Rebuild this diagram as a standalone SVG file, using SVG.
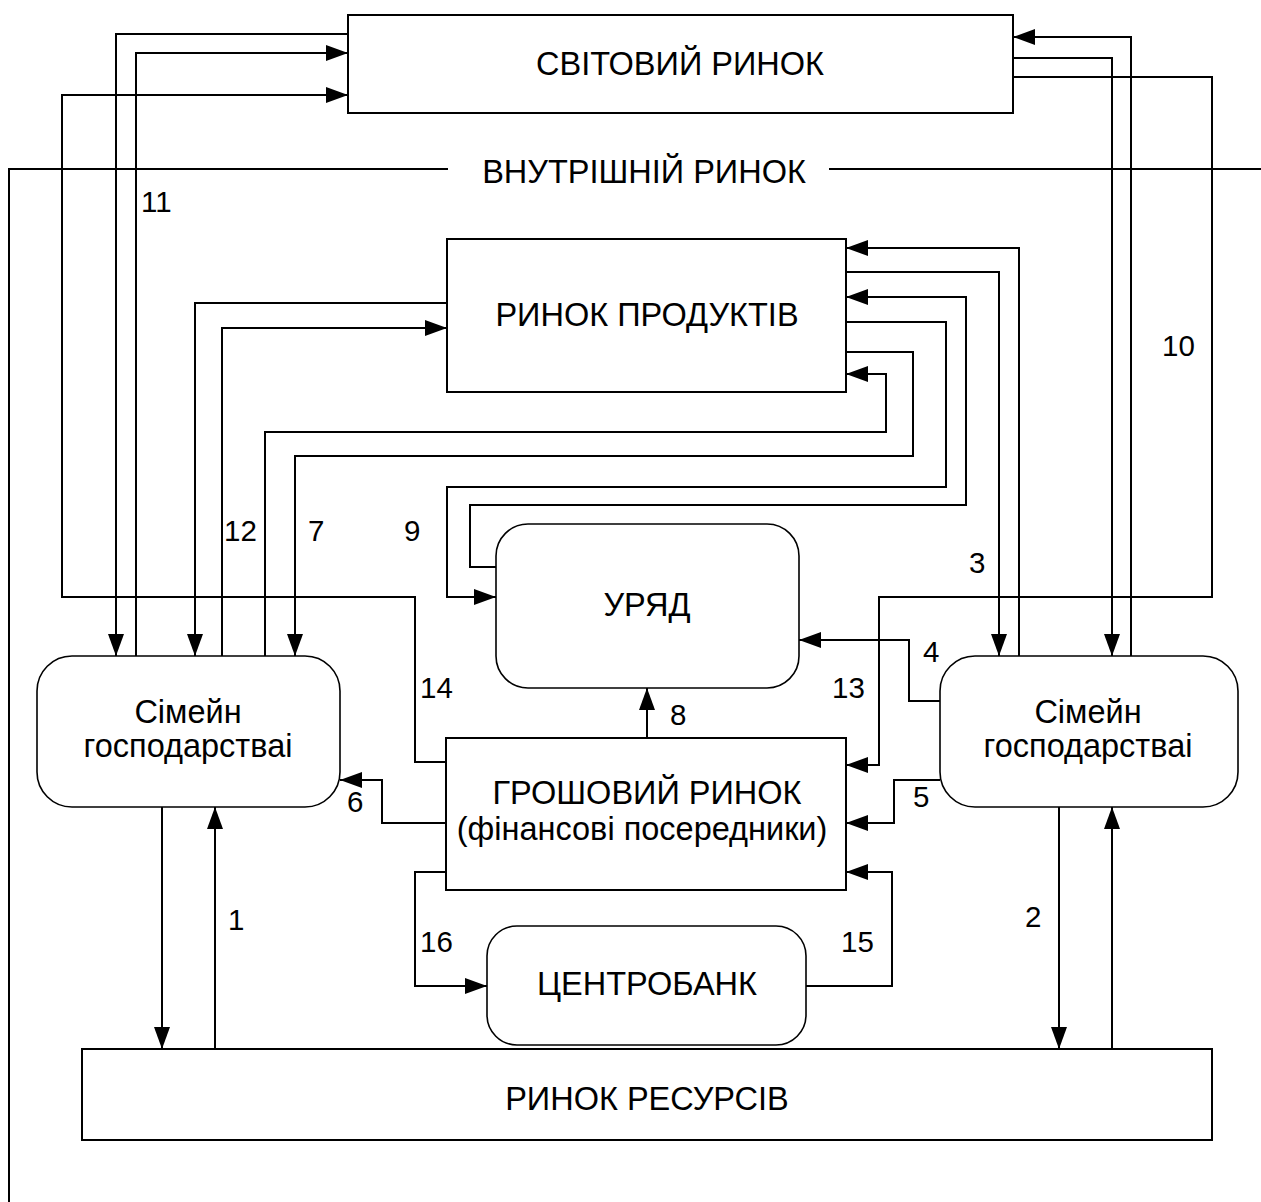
<svg xmlns="http://www.w3.org/2000/svg" width="1261" height="1202" viewBox="0 0 1261 1202">
<style>
.box{fill:#fff;stroke:#000;stroke-width:2}
.rbox{fill:#fff;stroke:#000;stroke-width:1.6}
.t{font-family:"Liberation Sans",Arial,sans-serif;font-size:32.5px;fill:#000;text-anchor:middle}
.lbl{font-family:"Liberation Sans",Arial,sans-serif;font-size:29.5px;fill:#000}
.c{fill:none;stroke:#000;stroke-width:2}
.ca{fill:none;stroke:#000;stroke-width:2;marker-end:url(#ah)}
</style>
<defs>
<marker id="ah" viewBox="0 0 22 16" refX="22" refY="8" markerWidth="22" markerHeight="16" markerUnits="userSpaceOnUse" orient="auto">
<path d="M0,0 L22,8 L0,16 z" fill="#000"/>
</marker>
</defs>
<rect width="1261" height="1202" fill="#fff"/>

<g id="domestic-boundary">
<path class="c" d="M9,1202 V169 H448 M829,169 H1261"/>
<text class="t" x="644" y="183">ВНУТРІШНІЙ РИНОК</text>
</g>

<g id="world-market">
<rect class="box" x="348" y="15" width="665" height="98"/>
<text class="t" x="680" y="75">СВІТОВИЙ РИНОК</text>
</g>

<g id="product-market">
<rect class="box" x="447" y="239" width="399" height="153"/>
<text class="t" x="647" y="326">РИНОК ПРОДУКТІВ</text>
</g>

<g id="government">
<rect class="rbox" x="496" y="524" width="303" height="164" rx="32" ry="32"/>
<text class="t" x="647" y="616">УРЯД</text>
</g>

<g id="money-market">
<rect class="box" x="446" y="738" width="400" height="152"/>
<text class="t" x="647" y="804">ГРОШОВИЙ РИНОК</text>
<text class="t" x="642" y="840">(фінансові посередники)</text>
</g>

<g id="central-bank">
<rect class="rbox" x="487" y="926" width="319" height="119" rx="30" ry="30"/>
<text class="t" x="647" y="995">ЦЕНТРОБАНК</text>
</g>

<g id="households-left">
<rect class="rbox" x="37" y="656" width="303" height="151" rx="35" ry="35"/>
<text class="t" x="188" y="723">Сімейн</text>
<text class="t" x="188" y="757">господарстваі</text>
</g>

<g id="households-right">
<rect class="rbox" x="940" y="656" width="298" height="151" rx="35" ry="35"/>
<text class="t" x="1088" y="723">Сімейн</text>
<text class="t" x="1088" y="757">господарстваі</text>
</g>

<g id="resource-market">
<rect class="box" x="82" y="1049" width="1130" height="91"/>
<text class="t" x="647" y="1110">РИНОК РЕСУРСІВ</text>
</g>

<g id="connectors">
<path class="ca" d="M348,34 H116 V656"/>
<path class="ca" d="M136,656 V53 H348"/>
<path class="ca" d="M446,762 H415 V597 H62 V95 H348"/>
<path class="ca" d="M1131,656 V37 H1013"/>
<path class="ca" d="M1013,58 H1112 V656"/>
<path class="ca" d="M1013,77 H1212 V597 H879 V765 H846"/>
<path class="ca" d="M447,303 H195 V656"/>
<path class="ca" d="M222,656 V328 H447"/>
<path class="ca" d="M265,656 V432 H886 V374 H846"/>
<path class="ca" d="M846,352 H913 V456 H295 V656"/>
<path class="ca" d="M846,322 H946 V487 H447 V597 H496"/>
<path class="ca" d="M496,567 H470 V505 H966 V297 H846"/>
<path class="ca" d="M1019,656 V248 H846"/>
<path class="ca" d="M846,272 H999 V656"/>
<path class="ca" d="M940,701 H909 V640 H799"/>
<path class="ca" d="M940,780 H894 V823 H846"/>
<path class="ca" d="M446,823 H382 V780 H340"/>
<path class="ca" d="M647,738 V688"/>
<path class="ca" d="M446,872 H415 V986 H487"/>
<path class="ca" d="M806,986 H892 V872 H846"/>
<path class="ca" d="M162,807 V1049"/>
<path class="ca" d="M215,1049 V807"/>
<path class="ca" d="M1059,807 V1049"/>
<path class="ca" d="M1112,1049 V807"/>
</g>

<g id="labels">
<text class="lbl" x="141" y="212">11</text>
<text class="lbl" x="1162" y="356">10</text>
<text class="lbl" x="969" y="573">3</text>
<text class="lbl" x="224" y="541">12</text>
<text class="lbl" x="308" y="541">7</text>
<text class="lbl" x="404" y="541">9</text>
<text class="lbl" x="420" y="698">14</text>
<text class="lbl" x="832" y="698">13</text>
<text class="lbl" x="670" y="725">8</text>
<text class="lbl" x="923" y="662">4</text>
<text class="lbl" x="913" y="807">5</text>
<text class="lbl" x="347" y="812">6</text>
<text class="lbl" x="228" y="930">1</text>
<text class="lbl" x="1025" y="927">2</text>
<text class="lbl" x="420" y="952">16</text>
<text class="lbl" x="841" y="952">15</text>
</g>
</svg>
